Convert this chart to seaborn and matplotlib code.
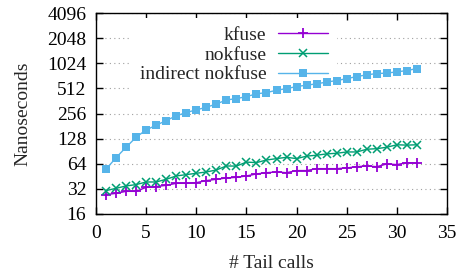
import numpy as np
import pandas as pd
import seaborn as sns
import matplotlib
matplotlib.use("Agg")
import matplotlib.pyplot as plt
from matplotlib.ticker import FixedLocator, NullLocator

# data (nanoseconds per run, x = number of tail calls)
tail_calls = list(range(1, 33))
kfuse = [27.3, 28.3, 29.9, 29.9, 33.4, 34.1, 35.3, 37.3, 37.3, 38.0, 40.2, 41.7,
         43.2, 44.0, 45.7, 48.3, 50.0, 51.0, 50.0, 53.0, 53.0, 55.9, 55.9, 55.9,
         57.0, 59.0, 60.2, 59.0, 63.7, 62.5, 66.0, 65.0]
nokfuse = [30.5, 32.5, 34.7, 36.0, 38.7, 38.7, 41.7, 45.7, 47.4, 49.2, 51.0, 53.9,
           60.2, 60.0, 67.0, 66.0, 71.0, 73.7, 76.5, 73.7, 79.0, 81.0, 84.0, 85.5,
           88.6, 88.6, 95.5, 97.0, 101.0, 108.0, 107.0, 108.0]
indirect = [55, 75.7, 101, 133, 163, 185, 211, 240, 263, 283, 304, 333,
            372, 386, 408, 440, 456, 486, 509, 538, 560, 580, 610, 635,
            670, 709, 744, 771, 780, 808, 837, 885]
y_ticks = [16, 32, 64, 128, 256, 512, 1024, 2048, 4096]
x_ticks = [0, 5, 10, 15, 20, 25, 30, 35]

sns.set_theme(style="ticks")
plt.rcParams['font.family'] = ['Liberation Serif', 'DejaVu Serif']
fs = 14

fig = plt.figure(figsize=(4.6, 2.77), dpi=100)
ax = fig.add_axes([96/460, 1-214/277, (447-96)/460, (214-13)/277])

series = [
    ("kfuse", kfuse, "#9400d3", "+", 7.5, 1.3),
    ("nokfuse", nokfuse, "#009e73", "x", 5.5, 1.1),
    ("indirect nokfuse", indirect, "#56b4e9", "s", 6, 0),
]
for name, vals, col, mk, ms, mew in series:
    df = pd.DataFrame({"x": tail_calls, "y": vals})
    sns.lineplot(data=df, x="x", y="y", ax=ax, color=col, marker=mk,
                 markersize=ms, markeredgewidth=mew, markeredgecolor=col,
                 linewidth=1.0, label=name, zorder=3)

ax.set_yscale("log", base=2)
ax.set_ylim(16, 4096)
ax.set_xlim(0, 35)
ax.yaxis.set_major_locator(FixedLocator(y_ticks))
ax.yaxis.set_minor_locator(NullLocator())
ax.set_yticks(y_ticks)
ax.set_yticklabels([str(t) for t in y_ticks])
ax.set_xticks(x_ticks)
ax.set_xticklabels([str(t) for t in x_ticks])

ax.tick_params(direction="in", length=5, width=1, top=True, right=True,
               labelsize=fs, colors="black", pad=7)
ax.tick_params(axis="x", pad=8)
for s in ax.spines.values():
    s.set_linewidth(1.0)
    s.set_color("black")
    s.set_zorder(4)

ax.yaxis.grid(True, linestyle=(0, (1, 3)), color="#a0a0a0", linewidth=0.8)
ax.set_axisbelow(True)

ax.set_xlabel("# Tail calls", fontsize=fs, labelpad=9)
ax.set_ylabel("Nanoseconds", fontsize=fs, labelpad=11)

leg = ax.legend(loc="upper right", bbox_to_anchor=((342-96)/351, 1.0),
                markerfirst=False, frameon=True, fancybox=False,
                facecolor="white", edgecolor="none", framealpha=1,
                handlelength=2.6, handletextpad=0.6, labelspacing=0.1,
                borderpad=0.45, borderaxespad=0.25, fontsize=fs)
# opaque key box sits over the grid but under the data, like the original
leg.set_zorder(2.2)

fig.savefig("out.png", dpi=100)
